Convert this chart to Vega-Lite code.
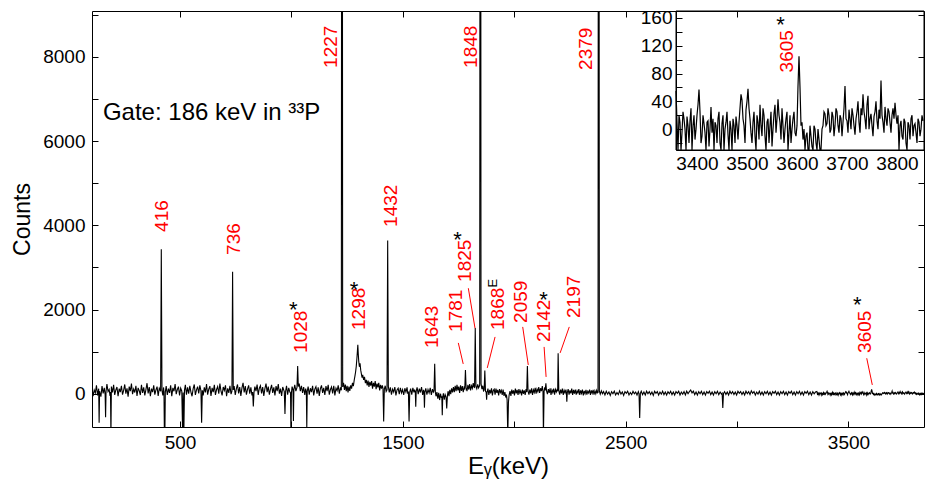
{
  "$schema": "https://vega.github.io/schema/vega-lite/v6.json",
  "width": 832,
  "height": 416,
  "autosize": {"type": "none"},
  "padding": {"left": 92, "top": 11, "right": 1, "bottom": 60},
  "background": "white",
  "config": {
    "font": "Liberation Sans",
    "view": {"stroke": null},
    "axis": {"grid": false, "labelFont": "Liberation Sans", "titleFont": "Liberation Sans, DejaVu Sans", "labelColor": "black", "titleColor": "black", "tickColor": "black", "domainColor": "black", "titleFontWeight": "normal", "labelOverlap": false, "labelFlush": false},
    "text": {"font": "Liberation Sans, DejaVu Sans"}
  },
  "datasets": {
    "spec": [
      {"e":105,"c":150},{"e":110,"c":-60},{"e":115,"c":90},{"e":120,"c":20},{"e":125,"c":200},{"e":130,"c":-40},{"e":135,"c":120},{"e":137,"c":-690},{"e":139,"c":60},{"e":145,"c":-70},{"e":150,"c":180},{"e":155,"c":10},{"e":160,"c":140},{"e":164,"c":-20},{"e":166,"c":-560},{"e":168,"c":60},{"e":172,"c":230},{"e":177,"c":50},{"e":182,"c":100},{"e":186,"c":-50},{"e":188,"c":40},{"e":190,"c":-1000},{"e":192,"c":170},{"e":197,"c":30},{"e":202,"c":210},{"e":207,"c":-30},{"e":212,"c":90},{"e":217,"c":160},{"e":222,"c":-60},{"e":227,"c":120},{"e":232,"c":40},{"e":237,"c":190},{"e":242,"c":-20},{"e":247,"c":80},{"e":252,"c":220},{"e":257,"c":0},{"e":262,"c":130},{"e":267,"c":-70},{"e":272,"c":170},{"e":277,"c":60},{"e":282,"c":240},{"e":287,"c":-10},{"e":292,"c":110},{"e":297,"c":30},{"e":302,"c":190},{"e":307,"c":-50},{"e":312,"c":140},{"e":317,"c":70},{"e":322,"c":-30},{"e":327,"c":210},{"e":332,"c":20},{"e":337,"c":150},{"e":342,"c":-40},{"e":347,"c":100},{"e":352,"c":250},{"e":357,"c":10},{"e":362,"c":160},{"e":367,"c":-60},{"e":372,"c":120},{"e":377,"c":40},{"e":382,"c":200},{"e":387,"c":-20},{"e":392,"c":90},{"e":397,"c":170},{"e":402,"c":-50},{"e":407,"c":130},{"e":413,"c":60},{"e":416,"c":3430},{"e":419,"c":80},{"e":423,"c":-40},{"e":426,"c":150},{"e":428,"c":50},{"e":430,"c":-1000},{"e":432,"c":-1000},{"e":434,"c":40},{"e":438,"c":180},{"e":443,"c":-30},{"e":448,"c":120},{"e":453,"c":20},{"e":458,"c":200},{"e":463,"c":-60},{"e":468,"c":140},{"e":473,"c":60},{"e":478,"c":230},{"e":483,"c":-10},{"e":488,"c":100},{"e":493,"c":170},{"e":498,"c":-40},{"e":503,"c":130},{"e":508,"c":60},{"e":512,"c":-1000},{"e":514,"c":30},{"e":517,"c":-1000},{"e":520,"c":80},{"e":524,"c":210},{"e":529,"c":-20},{"e":534,"c":150},{"e":539,"c":0},{"e":544,"c":190},{"e":549,"c":40},{"e":554,"c":-60},{"e":559,"c":120},{"e":564,"c":220},{"e":569,"c":-30},{"e":574,"c":90},{"e":579,"c":170},{"e":584,"c":10},{"e":589,"c":200},{"e":594,"c":70},{"e":597,"c":-690},{"e":600,"c":80},{"e":604,"c":-40},{"e":609,"c":150},{"e":614,"c":30},{"e":619,"c":230},{"e":624,"c":-20},{"e":629,"c":110},{"e":634,"c":180},{"e":639,"c":-50},{"e":644,"c":140},{"e":649,"c":40},{"e":654,"c":210},{"e":659,"c":-30},{"e":664,"c":100},{"e":669,"c":170},{"e":674,"c":0},{"e":679,"c":240},{"e":684,"c":60},{"e":689,"c":-40},{"e":694,"c":160},{"e":699,"c":80},{"e":704,"c":200},{"e":709,"c":-60},{"e":714,"c":130},{"e":719,"c":20},{"e":724,"c":190},{"e":729,"c":-10},{"e":733,"c":60},{"e":736,"c":2900},{"e":739,"c":90},{"e":743,"c":180},{"e":748,"c":-30},{"e":753,"c":120},{"e":758,"c":220},{"e":763,"c":10},{"e":768,"c":160},{"e":773,"c":-50},{"e":778,"c":140},{"e":783,"c":260},{"e":788,"c":30},{"e":793,"c":180},{"e":798,"c":-20},{"e":803,"c":110},{"e":808,"c":200},{"e":813,"c":0},{"e":818,"c":150},{"e":823,"c":-40},{"e":826,"c":40},{"e":829,"c":-300},{"e":832,"c":30},{"e":836,"c":170},{"e":841,"c":60},{"e":846,"c":220},{"e":851,"c":-30},{"e":856,"c":130},{"e":861,"c":190},{"e":866,"c":10},{"e":871,"c":160},{"e":876,"c":-50},{"e":881,"c":120},{"e":886,"c":240},{"e":891,"c":40},{"e":896,"c":170},{"e":901,"c":-20},{"e":906,"c":110},{"e":911,"c":210},{"e":916,"c":20},{"e":921,"c":150},{"e":926,"c":-40},{"e":931,"c":180},{"e":936,"c":60},{"e":941,"c":230},{"e":946,"c":0},{"e":951,"c":120},{"e":956,"c":-50},{"e":961,"c":160},{"e":966,"c":80},{"e":968,"c":50},{"e":971,"c":-480},{"e":974,"c":60},{"e":978,"c":190},{"e":983,"c":-20},{"e":988,"c":140},{"e":993,"c":40},{"e":996,"c":20},{"e":998,"c":-1000},{"e":1000,"c":20},{"e":1003,"c":170},{"e":1007,"c":90},{"e":1009,"c":-650},{"e":1011,"c":100},{"e":1015,"c":210},{"e":1020,"c":60},{"e":1025,"c":150},{"e":1028,"c":660},{"e":1031,"c":170},{"e":1035,"c":240},{"e":1040,"c":60},{"e":1045,"c":190},{"e":1050,"c":20},{"e":1055,"c":160},{"e":1060,"c":-30},{"e":1064,"c":120},{"e":1067,"c":40},{"e":1069,"c":-800},{"e":1071,"c":60},{"e":1075,"c":170},{"e":1080,"c":-20},{"e":1085,"c":130},{"e":1090,"c":40},{"e":1095,"c":190},{"e":1100,"c":-40},{"e":1105,"c":110},{"e":1110,"c":170},{"e":1115,"c":0},{"e":1120,"c":150},{"e":1125,"c":-50},{"e":1130,"c":120},{"e":1135,"c":200},{"e":1140,"c":20},{"e":1145,"c":140},{"e":1150,"c":-30},{"e":1155,"c":180},{"e":1160,"c":60},{"e":1165,"c":210},{"e":1170,"c":-20},{"e":1175,"c":100},{"e":1180,"c":160},{"e":1185,"c":10},{"e":1190,"c":190},{"e":1195,"c":-40},{"e":1200,"c":130},{"e":1205,"c":70},{"e":1210,"c":200},{"e":1215,"c":0},{"e":1220,"c":150},{"e":1224,"c":80},{"e":1227,"c":30000},{"e":1230,"c":160},{"e":1234,"c":260},{"e":1238,"c":90},{"e":1242,"c":220},{"e":1246,"c":60},{"e":1250,"c":190},{"e":1254,"c":30},{"e":1258,"c":170},{"e":1262,"c":70},{"e":1266,"c":200},{"e":1270,"c":120},{"e":1274,"c":260},{"e":1278,"c":180},{"e":1282,"c":330},{"e":1285,"c":420},{"e":1288,"c":520},{"e":1291,"c":650},{"e":1294,"c":850},{"e":1296,"c":1000},{"e":1298,"c":1160},{"e":1300,"c":950},{"e":1302,"c":780},{"e":1305,"c":640},{"e":1308,"c":720},{"e":1311,"c":560},{"e":1314,"c":470},{"e":1317,"c":380},{"e":1320,"c":450},{"e":1324,"c":330},{"e":1328,"c":400},{"e":1332,"c":250},{"e":1336,"c":330},{"e":1340,"c":200},{"e":1344,"c":310},{"e":1348,"c":160},{"e":1352,"c":280},{"e":1356,"c":190},{"e":1360,"c":300},{"e":1364,"c":120},{"e":1368,"c":260},{"e":1372,"c":170},{"e":1376,"c":300},{"e":1380,"c":110},{"e":1384,"c":240},{"e":1388,"c":150},{"e":1392,"c":260},{"e":1396,"c":80},{"e":1400,"c":210},{"e":1404,"c":120},{"e":1408,"c":200},{"e":1411,"c":120},{"e":1414,"c":-660},{"e":1417,"c":110},{"e":1421,"c":190},{"e":1425,"c":50},{"e":1429,"c":90},{"e":1432,"c":3640},{"e":1435,"c":170},{"e":1439,"c":30},{"e":1444,"c":150},{"e":1449,"c":-20},{"e":1454,"c":110},{"e":1459,"c":40},{"e":1464,"c":160},{"e":1469,"c":-40},{"e":1474,"c":90},{"e":1479,"c":130},{"e":1484,"c":-10},{"e":1489,"c":140},{"e":1494,"c":20},{"e":1499,"c":100},{"e":1504,"c":-30},{"e":1509,"c":130},{"e":1514,"c":40},{"e":1519,"c":150},{"e":1522,"c":0},{"e":1525,"c":50},{"e":1528,"c":-660},{"e":1531,"c":40},{"e":1535,"c":120},{"e":1540,"c":-20},{"e":1545,"c":140},{"e":1550,"c":30},{"e":1553,"c":100},{"e":1556,"c":40},{"e":1558,"c":-310},{"e":1560,"c":60},{"e":1564,"c":150},{"e":1569,"c":-10},{"e":1574,"c":120},{"e":1579,"c":30},{"e":1584,"c":160},{"e":1589,"c":-30},{"e":1593,"c":90},{"e":1595,"c":50},{"e":1597,"c":-330},{"e":1599,"c":30},{"e":1603,"c":130},{"e":1608,"c":-20},{"e":1613,"c":100},{"e":1618,"c":20},{"e":1623,"c":140},{"e":1628,"c":-30},{"e":1633,"c":110},{"e":1637,"c":40},{"e":1640,"c":70},{"e":1643,"c":710},{"e":1646,"c":30},{"e":1649,"c":-60},{"e":1653,"c":40},{"e":1657,"c":-120},{"e":1661,"c":20},{"e":1665,"c":-150},{"e":1669,"c":0},{"e":1673,"c":-100},{"e":1675,"c":-60},{"e":1677,"c":-510},{"e":1679,"c":-90},{"e":1682,"c":10},{"e":1686,"c":-140},{"e":1690,"c":-20},{"e":1694,"c":-80},{"e":1697,"c":-350},{"e":1700,"c":-50},{"e":1703,"c":60},{"e":1707,"c":-60},{"e":1711,"c":90},{"e":1715,"c":-10},{"e":1719,"c":130},{"e":1723,"c":30},{"e":1727,"c":160},{"e":1731,"c":40},{"e":1735,"c":190},{"e":1739,"c":60},{"e":1743,"c":210},{"e":1747,"c":80},{"e":1751,"c":170},{"e":1755,"c":20},{"e":1759,"c":200},{"e":1763,"c":70},{"e":1767,"c":180},{"e":1771,"c":40},{"e":1775,"c":150},{"e":1778,"c":120},{"e":1781,"c":565},{"e":1784,"c":140},{"e":1788,"c":60},{"e":1792,"c":210},{"e":1796,"c":100},{"e":1800,"c":230},{"e":1804,"c":80},{"e":1808,"c":190},{"e":1812,"c":130},{"e":1816,"c":250},{"e":1819,"c":160},{"e":1822,"c":150},{"e":1825,"c":1563},{"e":1828,"c":180},{"e":1832,"c":120},{"e":1836,"c":220},{"e":1840,"c":140},{"e":1845,"c":200},{"e":1848,"c":30000},{"e":1851,"c":240},{"e":1855,"c":110},{"e":1859,"c":190},{"e":1862,"c":70},{"e":1865,"c":90},{"e":1868,"c":550},{"e":1871,"c":60},{"e":1874,"c":40},{"e":1876,"c":-140},{"e":1878,"c":30},{"e":1882,"c":120},{"e":1886,"c":-30},{"e":1890,"c":90},{"e":1894,"c":10},{"e":1898,"c":130},{"e":1902,"c":-40},{"e":1906,"c":80},{"e":1910,"c":110},{"e":1914,"c":-20},{"e":1918,"c":120},{"e":1922,"c":20},{"e":1926,"c":90},{"e":1930,"c":-40},{"e":1934,"c":110},{"e":1938,"c":30},{"e":1942,"c":80},{"e":1946,"c":-30},{"e":1950,"c":100},{"e":1954,"c":-50},{"e":1958,"c":40},{"e":1962,"c":-90},{"e":1965,"c":-20},{"e":1968,"c":-150},{"e":1971,"c":-1000},{"e":1974,"c":-200},{"e":1977,"c":-30},{"e":1981,"c":60},{"e":1985,"c":-50},{"e":1989,"c":100},{"e":1993,"c":0},{"e":1997,"c":80},{"e":2001,"c":-40},{"e":2005,"c":120},{"e":2009,"c":10},{"e":2013,"c":90},{"e":2017,"c":-30},{"e":2021,"c":110},{"e":2025,"c":20},{"e":2029,"c":70},{"e":2033,"c":-40},{"e":2037,"c":100},{"e":2041,"c":0},{"e":2045,"c":80},{"e":2049,"c":-30},{"e":2053,"c":110},{"e":2056,"c":40},{"e":2059,"c":660},{"e":2062,"c":60},{"e":2066,"c":-20},{"e":2070,"c":100},{"e":2074,"c":10},{"e":2078,"c":130},{"e":2082,"c":-30},{"e":2086,"c":90},{"e":2090,"c":30},{"e":2094,"c":140},{"e":2098,"c":0},{"e":2102,"c":110},{"e":2106,"c":50},{"e":2110,"c":160},{"e":2114,"c":20},{"e":2118,"c":130},{"e":2122,"c":60},{"e":2126,"c":180},{"e":2129,"c":60},{"e":2131,"c":-1000},{"e":2134,"c":60},{"e":2137,"c":150},{"e":2139,"c":80},{"e":2142,"c":250},{"e":2145,"c":70},{"e":2149,"c":-10},{"e":2153,"c":110},{"e":2157,"c":20},{"e":2161,"c":130},{"e":2165,"c":-30},{"e":2169,"c":90},{"e":2173,"c":30},{"e":2177,"c":120},{"e":2181,"c":-20},{"e":2185,"c":100},{"e":2189,"c":40},{"e":2192,"c":90},{"e":2195,"c":60},{"e":2197,"c":962},{"e":2200,"c":80},{"e":2204,"c":-20},{"e":2208,"c":100},{"e":2212,"c":10},{"e":2216,"c":120},{"e":2220,"c":-30},{"e":2224,"c":80},{"e":2228,"c":20},{"e":2232,"c":100},{"e":2234,"c":30},{"e":2236,"c":-190},{"e":2238,"c":20},{"e":2242,"c":110},{"e":2246,"c":-20},{"e":2250,"c":80},{"e":2254,"c":10},{"e":2258,"c":120},{"e":2262,"c":-30},{"e":2266,"c":90},{"e":2270,"c":0},{"e":2274,"c":100},{"e":2278,"c":-20},{"e":2282,"c":70},{"e":2286,"c":20},{"e":2290,"c":110},{"e":2294,"c":-30},{"e":2298,"c":80},{"e":2302,"c":10},{"e":2306,"c":100},{"e":2310,"c":-40},{"e":2314,"c":70},{"e":2318,"c":0},{"e":2322,"c":90},{"e":2326,"c":-20},{"e":2330,"c":60},{"e":2334,"c":20},{"e":2338,"c":100},{"e":2342,"c":-30},{"e":2346,"c":80},{"e":2350,"c":10},{"e":2354,"c":90},{"e":2358,"c":-20},{"e":2362,"c":70},{"e":2366,"c":0},{"e":2370,"c":80},{"e":2373,"c":20},{"e":2376,"c":30},{"e":2379,"c":30000},{"e":2382,"c":60},{"e":2386,"c":-10},{"e":2391,"c":70},{"e":2396,"c":0},
      {"e":2401,"c":50},{"e":2407,"c":-30},{"e":2413,"c":60},{"e":2419,"c":-10},{"e":2425,"c":40},{"e":2431,"c":-40},{"e":2437,"c":50},{"e":2443,"c":0},{"e":2449,"c":60},{"e":2455,"c":-30},{"e":2461,"c":30},{"e":2467,"c":-20},{"e":2473,"c":70},{"e":2479,"c":-10},{"e":2485,"c":40},{"e":2491,"c":-40},{"e":2497,"c":50},{"e":2503,"c":10},{"e":2509,"c":60},{"e":2515,"c":-30},{"e":2521,"c":30},{"e":2527,"c":-20},{"e":2533,"c":60},{"e":2539,"c":0},{"e":2545,"c":40},{"e":2551,"c":-30},{"e":2557,"c":50},{"e":2560,"c":0},{"e":2563,"c":-575},{"e":2566,"c":10},{"e":2570,"c":60},{"e":2576,"c":-20},{"e":2582,"c":40},{"e":2588,"c":-30},{"e":2594,"c":60},{"e":2600,"c":0},{"e":2606,"c":50},{"e":2612,"c":-20},{"e":2618,"c":40},{"e":2624,"c":-40},{"e":2630,"c":60},{"e":2636,"c":10},{"e":2642,"c":50},{"e":2648,"c":-30},{"e":2654,"c":40},{"e":2660,"c":-10},{"e":2666,"c":60},{"e":2672,"c":-20},{"e":2678,"c":40},{"e":2684,"c":-30},{"e":2690,"c":50},{"e":2696,"c":0},{"e":2702,"c":60},{"e":2708,"c":-20},{"e":2714,"c":40},{"e":2720,"c":-30},{"e":2726,"c":50},{"e":2732,"c":10},{"e":2738,"c":60},{"e":2744,"c":-30},{"e":2750,"c":40},{"e":2756,"c":-10},{"e":2762,"c":50},{"e":2768,"c":-30},{"e":2774,"c":60},{"e":2780,"c":0},{"e":2786,"c":50},{"e":2792,"c":90},{"e":2798,"c":20},{"e":2804,"c":60},{"e":2810,"c":-20},{"e":2816,"c":40},{"e":2822,"c":-30},{"e":2828,"c":50},{"e":2834,"c":0},{"e":2840,"c":60},{"e":2846,"c":-20},{"e":2852,"c":40},{"e":2858,"c":-30},{"e":2864,"c":50},{"e":2870,"c":10},{"e":2876,"c":60},{"e":2882,"c":-20},{"e":2888,"c":40},{"e":2894,"c":-30},{"e":2900,"c":50},{"e":2906,"c":0},{"e":2912,"c":60},{"e":2918,"c":-20},{"e":2924,"c":40},{"e":2930,"c":-10},{"e":2933,"c":10},{"e":2936,"c":-340},{"e":2939,"c":0},{"e":2944,"c":50},{"e":2950,"c":-20},{"e":2956,"c":40},{"e":2962,"c":-30},{"e":2968,"c":60},{"e":2974,"c":0},{"e":2980,"c":50},{"e":2986,"c":-20},{"e":2992,"c":40},{"e":2998,"c":-30},{"e":3004,"c":60},{"e":3010,"c":10},{"e":3016,"c":50},{"e":3022,"c":-20},{"e":3028,"c":40},{"e":3034,"c":-30},{"e":3040,"c":60},{"e":3046,"c":0},{"e":3052,"c":50},{"e":3058,"c":-20},{"e":3064,"c":70},{"e":3070,"c":10},{"e":3076,"c":50},{"e":3082,"c":-30},{"e":3088,"c":40},{"e":3094,"c":-10},{"e":3100,"c":60},{"e":3106,"c":-20},{"e":3112,"c":40},{"e":3118,"c":-30},{"e":3124,"c":50},{"e":3130,"c":0},{"e":3136,"c":60},{"e":3142,"c":-20},{"e":3148,"c":40},{"e":3154,"c":-30},{"e":3160,"c":50},{"e":3166,"c":10},{"e":3172,"c":60},{"e":3178,"c":-20},{"e":3184,"c":40},{"e":3190,"c":-30},{"e":3196,"c":50},{"e":3202,"c":0},{"e":3208,"c":60},{"e":3214,"c":-20},{"e":3220,"c":40},{"e":3226,"c":-30},{"e":3232,"c":50},{"e":3238,"c":10},{"e":3244,"c":60},{"e":3250,"c":-20},{"e":3256,"c":40},{"e":3262,"c":-30},{"e":3268,"c":50},{"e":3274,"c":0},{"e":3280,"c":60},{"e":3286,"c":-20},{"e":3292,"c":40},{"e":3298,"c":-30},{"e":3304,"c":50},{"e":3310,"c":10},{"e":3316,"c":60},{"e":3322,"c":-20},{"e":3328,"c":40},{"e":3334,"c":-30},{"e":3340,"c":50},{"e":3346,"c":0},{"e":3352,"c":40},
      {"e":3358,"c":55},{"e":3360,"c":10},{"e":3362,"c":-30},{"e":3364,"c":20},{"e":3366,"c":10},{"e":3368,"c":-30},{"e":3370,"c":-5},{"e":3372,"c":25},{"e":3374,"c":15},{"e":3376,"c":0},{"e":3378,"c":-30},{"e":3380,"c":18},{"e":3382,"c":5},{"e":3384,"c":-20},{"e":3386,"c":12},{"e":3388,"c":30},{"e":3390,"c":-30},{"e":3392,"c":5},{"e":3394,"c":20},{"e":3396,"c":-15},{"e":3398,"c":0},{"e":3400,"c":20},{"e":3402,"c":35},{"e":3404,"c":57},{"e":3406,"c":25},{"e":3408,"c":-20},{"e":3410,"c":-10},{"e":3412,"c":20},{"e":3414,"c":8},{"e":3416,"c":-5},{"e":3418,"c":-30},{"e":3420,"c":10},{"e":3422,"c":12},{"e":3424,"c":-25},{"e":3426,"c":0},{"e":3428,"c":32},{"e":3430,"c":-5},{"e":3432,"c":15},{"e":3434,"c":-30},{"e":3436,"c":10},{"e":3438,"c":5},{"e":3440,"c":-20},{"e":3442,"c":15},{"e":3444,"c":25},{"e":3446,"c":-20},{"e":3448,"c":-30},{"e":3450,"c":8},{"e":3452,"c":20},{"e":3454,"c":-30},{"e":3456,"c":0},{"e":3458,"c":10},{"e":3460,"c":25},{"e":3462,"c":-8},{"e":3464,"c":-30},{"e":3466,"c":12},{"e":3468,"c":0},{"e":3470,"c":-30},{"e":3472,"c":15},{"e":3474,"c":5},{"e":3476,"c":-20},{"e":3478,"c":18},{"e":3480,"c":5},{"e":3482,"c":-15},{"e":3484,"c":10},{"e":3486,"c":30},{"e":3488,"c":50},{"e":3490,"c":42},{"e":3492,"c":15},{"e":3494,"c":5},{"e":3496,"c":-20},{"e":3498,"c":28},{"e":3500,"c":40},{"e":3502,"c":58},{"e":3504,"c":30},{"e":3506,"c":15},{"e":3508,"c":-5},{"e":3510,"c":-20},{"e":3512,"c":10},{"e":3514,"c":25},{"e":3516,"c":-10},{"e":3518,"c":-30},{"e":3520,"c":20},{"e":3522,"c":10},{"e":3524,"c":-15},{"e":3526,"c":35},{"e":3528,"c":5},{"e":3530,"c":-10},{"e":3532,"c":30},{"e":3534,"c":20},{"e":3536,"c":-10},{"e":3538,"c":-30},{"e":3540,"c":10},{"e":3542,"c":15},{"e":3544,"c":-20},{"e":3546,"c":5},{"e":3548,"c":25},{"e":3550,"c":-25},{"e":3552,"c":0},{"e":3554,"c":22},{"e":3556,"c":35},{"e":3558,"c":-5},{"e":3560,"c":15},{"e":3562,"c":43},{"e":3564,"c":20},{"e":3566,"c":10},{"e":3568,"c":-15},{"e":3570,"c":30},{"e":3572,"c":5},{"e":3574,"c":-20},{"e":3576,"c":0},{"e":3578,"c":15},{"e":3580,"c":25},{"e":3582,"c":-30},{"e":3584,"c":-5},{"e":3586,"c":20},{"e":3588,"c":-20},{"e":3590,"c":0},{"e":3592,"c":15},{"e":3594,"c":25},{"e":3596,"c":-5},{"e":3598,"c":-10},{"e":3600,"c":5},{"e":3602,"c":62},{"e":3604,"c":105},{"e":3606,"c":60},{"e":3608,"c":5},{"e":3610,"c":10},{"e":3612,"c":-15},{"e":3614,"c":0},{"e":3616,"c":-30},{"e":3618,"c":-10},{"e":3620,"c":-5},{"e":3622,"c":-30},{"e":3624,"c":-30},{"e":3626,"c":5},{"e":3628,"c":-10},{"e":3630,"c":-25},{"e":3632,"c":-30},{"e":3634,"c":5},{"e":3636,"c":0},{"e":3638,"c":-20},{"e":3640,"c":-30},{"e":3642,"c":0},{"e":3644,"c":-15},{"e":3646,"c":-30},{"e":3648,"c":-30},{"e":3650,"c":0},{"e":3652,"c":5},{"e":3654,"c":25},{"e":3656,"c":22},{"e":3658,"c":5},{"e":3660,"c":8},{"e":3662,"c":30},{"e":3664,"c":20},{"e":3666,"c":-5},{"e":3668,"c":0},{"e":3670,"c":25},{"e":3672,"c":18},{"e":3674,"c":-10},{"e":3676,"c":5},{"e":3678,"c":30},{"e":3680,"c":25},{"e":3682,"c":5},{"e":3684,"c":-5},{"e":3686,"c":20},{"e":3688,"c":15},{"e":3690,"c":-10},{"e":3692,"c":10},{"e":3694,"c":30},{"e":3696,"c":62},{"e":3698,"c":15},{"e":3700,"c":12},{"e":3702,"c":-5},{"e":3704,"c":28},{"e":3706,"c":15},{"e":3708,"c":0},{"e":3710,"c":30},{"e":3712,"c":20},{"e":3714,"c":5},{"e":3716,"c":-8},{"e":3718,"c":15},{"e":3720,"c":25},{"e":3722,"c":40},{"e":3724,"c":10},{"e":3726,"c":-5},{"e":3728,"c":30},{"e":3730,"c":20},{"e":3732,"c":50},{"e":3734,"c":25},{"e":3736,"c":15},{"e":3738,"c":0},{"e":3740,"c":35},{"e":3742,"c":48},{"e":3744,"c":0},{"e":3746,"c":15},{"e":3748,"c":22},{"e":3750,"c":5},{"e":3752,"c":-10},{"e":3754,"c":18},{"e":3756,"c":25},{"e":3758,"c":40},{"e":3760,"c":12},{"e":3762,"c":0},{"e":3764,"c":28},{"e":3766,"c":15},{"e":3768,"c":70},{"e":3770,"c":20},{"e":3772,"c":10},{"e":3774,"c":-5},{"e":3776,"c":32},{"e":3778,"c":15},{"e":3780,"c":5},{"e":3782,"c":30},{"e":3784,"c":25},{"e":3786,"c":10},{"e":3788,"c":-5},{"e":3790,"c":20},{"e":3792,"c":30},{"e":3794,"c":15},{"e":3796,"c":38},{"e":3798,"c":20},{"e":3800,"c":8},{"e":3802,"c":20},{"e":3804,"c":-30},{"e":3806,"c":5},{"e":3808,"c":12},{"e":3810,"c":-10},{"e":3812,"c":-15},{"e":3814,"c":15},{"e":3816,"c":10},{"e":3818,"c":-20},{"e":3820,"c":-30},{"e":3822,"c":10},{"e":3824,"c":5},{"e":3826,"c":-15},{"e":3828,"c":15},{"e":3830,"c":20},{"e":3832,"c":-10},{"e":3834,"c":5},{"e":3836,"c":8},{"e":3838,"c":-5},{"e":3840,"c":-20},{"e":3842,"c":15},{"e":3844,"c":10},{"e":3846,"c":-10},{"e":3848,"c":0},{"e":3850,"c":20},{"e":3852,"c":12}
    ],
    "labels": [
      {"e":419,"c":3843,"t":"416"},{"e":742,"c":3297,"t":"736"},{"e":1042,"c":969,"t":"1028"},{"e":1176,"c":7739,"t":"1227"},{"e":1303,"c":1515,"t":"1298"},{"e":1447,"c":3962,"t":"1432"},{"e":1632,"c":1088,"t":"1643"},{"e":1737,"c":1468,"t":"1781"},{"e":1780,"c":2656,"t":"1825"},{"e":1805,"c":7739,"t":"1848"},{"e":1927,"c":1515,"t":"1868"},{"e":2029,"c":1682,"t":"2059"},{"e":2134,"c":1230,"t":"2142"},{"e":2268,"c":1800,"t":"2197"},{"e":2324,"c":7691,"t":"2379"},{"e":3574,"c":969,"t":"3605"}
    ],
    "stars": [
      {"e":1008,"c":2109},{"e":1281,"c":2584},{"e":1745,"c":3772},{"e":2131,"c":2347},{"e":3540,"c":2228}
    ],
    "emark": [{"e":1906,"c":2625,"t":"E"}],
    "leaders": [
      {"e":1749,"c":1207,"e2":1771,"c2":708},{"e":1794,"c":2506,"e2":1824,"c2":1556},{"e":1914,"c":1349,"e2":1879,"c2":613},{"e":2038,"c":1587,"e2":2063,"c2":684},{"e":2134,"c":1112,"e2":2143,"c2":399},{"e":2247,"c":1587,"e2":2206,"c2":969},{"e":3582,"c":843,"e2":3607,"c2":209}
    ],
    "notes": [{"e":154,"c":6504,"t":"Gate: 186 keV in ³³P"}],
    "insetLabels": [{"e":3579,"c":81.6,"t":"3605"}],
    "insetStars": [{"e":3567,"c":157.5}]
  },
  "layer": [
    {
      "encoding": {
        "x": {"field": "e", "type": "quantitative", "scale": {"domain": [105, 3839], "nice": false, "zero": false},
          "axis": {"orient": "bottom", "values": [500, 1000, 1500, 2000, 2500, 3000, 3500], "format": "d", "labelExpr": "datum.value % 1000 == 500 ? datum.label : ''", "tickSize": -6, "labelPadding": 12, "labelFontSize": 19, "title": "Eᵧ(keV)", "titleFontSize": 24, "titlePadding": 2, "zindex": 1}},
        "y": {"field": "c", "type": "quantitative", "scale": {"domain": [-790, 9090], "nice": false, "zero": false},
          "axis": {"orient": "left", "values": [0, 1000, 2000, 3000, 4000, 5000, 6000, 7000, 8000, 9000], "format": "d", "labelExpr": "datum.value % 2000 == 0 ? datum.label : ''", "tickSize": -6, "labelPadding": 13, "labelFontSize": 19, "title": "Counts", "titleFontSize": 23, "titlePadding": 8, "zindex": 1}}
      },
      "layer": [
        {"data": {"name": "spec"}, "mark": {"type": "line", "color": "black", "strokeWidth": 1.1, "clip": true}},
        {"data": {"name": "leaders"}, "mark": {"type": "rule", "color": "red", "strokeWidth": 1}, "encoding": {"x2": {"field": "e2"}, "y2": {"field": "c2"}}},
        {"data": {"name": "labels"}, "mark": {"type": "text", "color": "red", "angle": 270, "align": "left", "baseline": "middle", "fontSize": 19}, "encoding": {"text": {"field": "t"}}},
        {"data": {"name": "stars"}, "mark": {"type": "text", "text": "*", "color": "black", "fontSize": 22, "align": "center", "baseline": "middle", "dy": 5}},
        {"data": {"name": "emark"}, "mark": {"type": "text", "color": "black", "angle": 270, "fontSize": 13, "align": "center", "baseline": "middle"}, "encoding": {"text": {"field": "t"}}},
        {"data": {"name": "notes"}, "mark": {"type": "text", "color": "black", "fontSize": 24, "align": "left", "baseline": "alphabetic"}, "encoding": {"text": {"field": "t"}}}
      ]
    },
    {
      "layer": [
        {"data": {"name": "insetLabels"}, "mark": {"type": "rect", "fill": "white", "stroke": "black", "strokeWidth": 1},
          "encoding": {
            "x": {"datum": 3358, "type": "quantitative", "scale": {"domain": [3358, 3854], "range": [584, 832], "nice": false, "zero": false},
              "axis": {"orient": "bottom", "offset": -277, "values": [3400, 3500, 3600, 3700, 3800], "format": "d", "ticks": false, "labelPadding": 4, "labelFontSize": 19, "title": null, "zindex": 1}},
            "x2": {"datum": 3854},
            "y": {"datum": -30, "type": "quantitative", "scale": {"domain": [-30, 170], "range": [139, 0], "nice": false, "zero": false, "clamp": true},
              "axis": {"orient": "left", "offset": -584, "values": [-20, 0, 20, 40, 60, 80, 100, 120, 140, 160], "format": "d", "labelExpr": "datum.value % 40 == 0 ? datum.label : ''", "tickSize": -6, "labelPadding": 10, "labelFontSize": 19, "title": null, "zindex": 1}},
            "y2": {"datum": 170}
          }},
        {"data": {"name": "spec"}, "transform": [{"filter": "datum.e >= 3358"}], "mark": {"type": "line", "color": "black", "strokeWidth": 1.2},
          "encoding": {
            "x": {"field": "e", "type": "quantitative", "scale": {"domain": [3358, 3854], "range": [584, 832], "nice": false, "zero": false}},
            "y": {"field": "c", "type": "quantitative", "scale": {"domain": [-30, 170], "range": [139, 0], "nice": false, "zero": false, "clamp": true}}
          }},
        {"data": {"name": "insetLabels"}, "mark": {"type": "text", "color": "red", "angle": 270, "align": "left", "baseline": "middle", "fontSize": 19},
          "encoding": {
            "x": {"field": "e", "type": "quantitative", "scale": {"domain": [3358, 3854], "range": [584, 832], "nice": false, "zero": false}},
            "y": {"field": "c", "type": "quantitative", "scale": {"domain": [-30, 170], "range": [139, 0], "nice": false, "zero": false, "clamp": true}},
            "text": {"field": "t"}
          }},
        {"data": {"name": "insetStars"}, "mark": {"type": "text", "text": "*", "color": "black", "fontSize": 22, "align": "center", "baseline": "middle", "dy": 5},
          "encoding": {
            "x": {"field": "e", "type": "quantitative", "scale": {"domain": [3358, 3854], "range": [584, 832], "nice": false, "zero": false}},
            "y": {"field": "c", "type": "quantitative", "scale": {"domain": [-30, 170], "range": [139, 0], "nice": false, "zero": false, "clamp": true}}
          }}
      ]
    },
    {
      "data": {"name": "insetLabels"},
      "mark": {"type": "point", "opacity": 0},
      "encoding": {
        "x": {"field": "e", "type": "quantitative", "scale": {"domain": [105, 3839], "nice": false, "zero": false},
          "axis": {"orient": "top", "values": [500, 1000, 1500, 2000, 2500, 3000, 3500], "labels": false, "tickSize": -6, "title": null, "zindex": 1}},
        "y": {"field": "c", "type": "quantitative", "scale": {"domain": [-790, 9090], "nice": false, "zero": false},
          "axis": {"orient": "right", "values": [0, 1000, 2000, 3000, 4000, 5000, 6000, 7000, 8000, 9000], "labels": false, "tickSize": -6, "title": null, "zindex": 1}}
      }
    }
  ],
  "resolve": {"scale": {"x": "independent", "y": "independent"}, "axis": {"x": "independent", "y": "independent"}}
}
